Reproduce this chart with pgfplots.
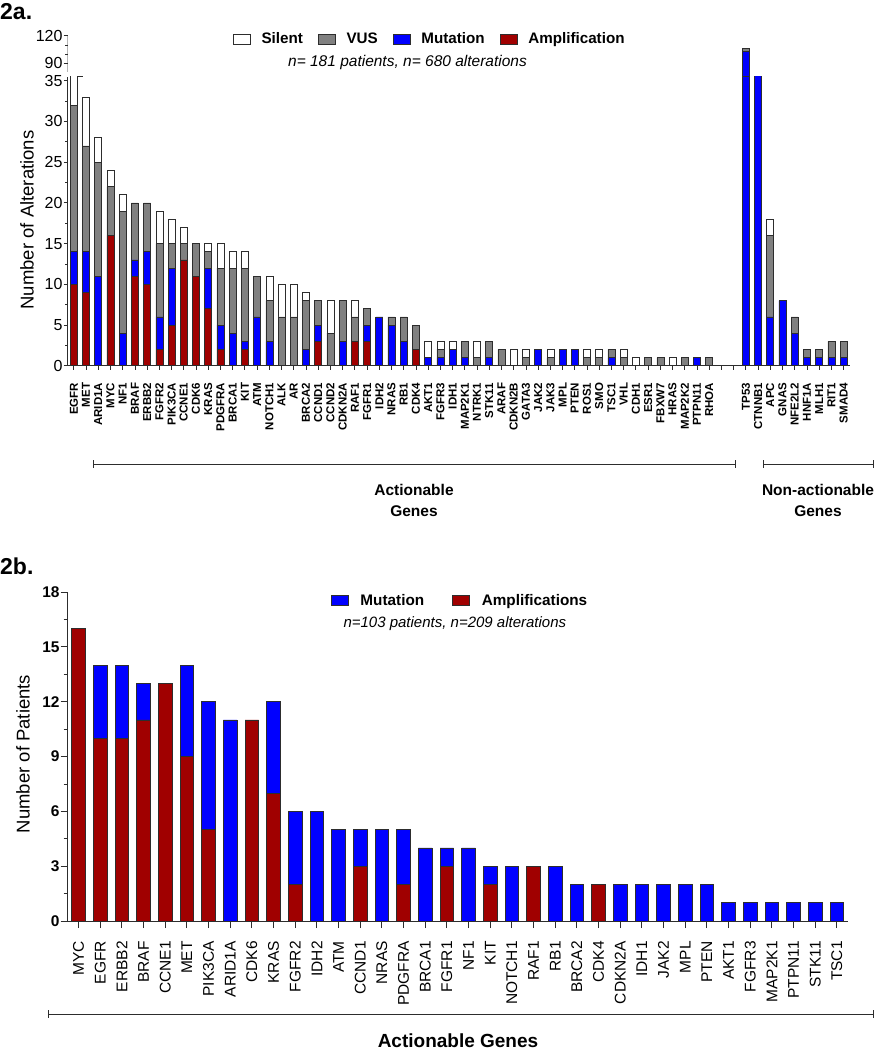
\documentclass[border=0pt]{standalone}
\usepackage{pgfplots}
\usepackage{pgfplotstable}
\usepackage{fontspec}
\setmainfont{Liberation Sans}
\pgfplotsset{compat=1.18}
\definecolor{amp}{RGB}{160,0,0}
\definecolor{mut}{RGB}{0,0,255}
\definecolor{vus}{RGB}{128,128,128}
\definecolor{axc}{RGB}{45,45,45}
\newcommand{\fs}[1]{\fontsize{#1}{#1}\selectfont}
\pgfplotsset{
  mylegend/.style={legend image code/.code={\draw[##1] (0pt,-5pt) rectangle (17pt,5pt);}},
  barsty/.style={draw=axc, line width=0.6pt, mylegend},
}

\pgfplotstableread{
x amp mut vus sil
0 10 4 18 4
1 9 5 13 6
2 0 11 14 3
3 16 0 6 2
4 0 4 15 2
5 11 2 7 0
6 10 4 6 0
7 2 4 9 4
8 5 7 3 3
9 13 0 2 2
10 11 0 4 0
11 7 5 2 1
12 2 3 7 3
13 0 4 8 2
14 2 1 9 2
15 0 6 5 0
16 0 3 5 3
17 0 0 6 4
18 0 0 6 4
19 0 2 6 1
20 3 2 3 0
21 0 0 4 4
22 0 3 5 0
23 3 0 3 2
24 3 2 2 0
25 0 6 0 0
26 0 5 1 0
27 0 3 3 0
28 2 0 3 0
29 0 1 0 2
30 0 1 1 1
31 0 2 0 1
32 0 1 2 0
33 0 0 1 2
34 0 1 2 0
35 0 0 2 0
36 0 0 0 2
37 0 0 1 1
38 0 2 0 0
39 0 0 1 1
40 0 2 0 0
41 0 2 0 0
42 0 0 1 1
43 0 0 1 1
44 0 1 1 0
45 0 0 1 1
46 0 0 0 1
47 0 0 1 0
48 0 0 1 0
49 0 0 0 1
50 0 0 1 0
51 0 1 0 0
52 0 0 1 0
55 0 103 3 0
56 0 63 0 0
57 0 6 10 2
58 0 8 0 0
59 0 4 2 0
60 0 1 1 0
61 0 1 1 0
62 0 1 2 0
63 0 1 2 0
}\topdata

\pgfplotstableread{
x amp mut
0 16 0
1 10 4
2 10 4
3 11 2
4 13 0
5 9 5
6 5 7
7 0 11
8 11 0
9 7 5
10 2 4
11 0 6
12 0 5
13 3 2
14 0 5
15 2 3
16 0 4
17 3 1
18 0 4
19 2 1
20 0 3
21 3 0
22 0 3
23 0 2
24 2 0
25 0 2
26 0 2
27 0 2
28 0 2
29 0 2
30 0 1
31 0 1
32 0 1
33 0 1
34 0 1
35 0 1
}\botdata

\begin{document}
\begin{tikzpicture}[x=1pt,y=1pt]
\path[use as bounding box] (0,0) rectangle (881,-1050);

% panel labels
\node[font=\bfseries\fs{23}, anchor=west, inner sep=0pt] at (0,-12) {2a.};
\node[font=\bfseries\fs{23}, anchor=west, inner sep=0pt] at (0,-566) {2b.};

% ---------- 2a lower axis ----------
\begin{axis}[
  at={(67.7pt,-365.7pt)}, anchor=south west,
  scale only axis, width=782pt, height=289pt,
  xmin=-0.5, xmax=63.5, ymin=0, ymax=35.5,
  ybar stacked, bar width=7pt,
  axis x line*=bottom, axis y line*=left,
  axis line style={-, axc, line width=0.8pt},
  xtick={0,...,63},
  xticklabels={EGFR,MET,ARID1A,MYC,NF1,BRAF,ERBB2,FGFR2,PIK3CA,CCNE1,CDK6,KRAS,PDGFRA,BRCA1,KIT,ATM,NOTCH1,ALK,AR,BRCA2,CCND1,CCND2,CDKN2A,RAF1,FGFR1,IDH2,NRAS,RB1,CDK4,AKT1,FGFR3,IDH1,MAP2K1,NTRK1,STK11,ARAF,CDKN2B,GATA3,JAK2,JAK3,MPL,PTEN,ROS1,SMO,TSC1,VHL,CDH1,ESR1,FBXW7,HRAS,MAP2K2,PTPN11,RHOA,{},{},TP53,CTNNB1,APC,GNAS,NFE2L2,HNF1A,MLH1,RIT1,SMAD4},
  xticklabel style={rotate=90, anchor=east, inner sep=0pt, font=\bfseries\fs{11.5}},
  xticklabel shift=13pt,
  ytick={0,5,...,35}, minor ytick={2.5,7.5,...,32.5},
  yticklabel style={font=\fs{16}, inner sep=1pt},
  tick align=outside, major tick length=4pt, minor tick length=2.5pt,
  tick style={axc, line width=0.8pt},
  /pgf/number format/assume math mode=true,
  legend style={at={(0.463,1.13)}, anchor=center, draw=none, fill=none,
    legend columns=4, font=\bfseries\fs{15.2},
    /tikz/every odd column/.append style={column sep=9pt},
    /tikz/every even column/.append style={column sep=13pt}},
  reverse legend,
]
\addplot[fill=amp, barsty] table[x=x,y=amp]{\topdata};
\addlegendentry{Amplification}
\addplot[fill=mut, barsty] table[x=x,y=mut]{\topdata};
\addlegendentry{Mutation}
\addplot[fill=vus, barsty] table[x=x,y=vus]{\topdata};
\addlegendentry{VUS}
\addplot[fill=white, barsty] table[x=x,y=sil]{\topdata};
\addlegendentry{Silent}
\draw[axc, line width=0.8pt] (axis cs:-0.5,35.5) ++(-3pt,0) -- ++(6pt,0);
\end{axis}

% ---------- 2a upper (broken) axis ----------
\begin{axis}[
  at={(67.7pt,-76.7pt)}, anchor=south west,
  scale only axis, width=782pt, height=41pt,
  xmin=-0.5, xmax=63.5, ymin=75.5, ymax=120,
  ybar stacked, bar width=7pt,
  axis x line=none, axis y line*=left,
  y axis line style={draw=none},
  ytick={90,120}, minor ytick={100,110},
  yticklabel style={font=\fs{16}, inner sep=1pt},
  tick align=outside, major tick length=4pt, minor tick length=2.5pt,
  tick style={axc, line width=0.8pt},
  /pgf/number format/assume math mode=true,
]
\addplot[fill=mut, barsty] coordinates {(55,103)};
\addplot[fill=vus, barsty] coordinates {(55,3)};
\draw[axc, line width=0.8pt] (axis cs:-0.5,81) -- (axis cs:-0.5,120);
\draw[axc, line width=0.8pt] (axis cs:-0.5,81) ++(-3pt,0) -- ++(6pt,0);
\end{axis}

\node[font=\itshape\fs{15.5}] at (407.5,-62.7) {n= 181 patients, n= 680 alterations};
\node[font=\fs{18.5}, rotate=90] at (27,-220) {Number of Alterations};

% brackets 2a
\draw[axc, line width=0.8pt] (93,-464) -- (735,-464);
\draw[axc, line width=0.8pt] (93,-460) -- (93,-468);
\draw[axc, line width=0.8pt] (735,-460) -- (735,-468);
\draw[axc, line width=0.8pt] (763,-464) -- (873,-464);
\draw[axc, line width=0.8pt] (763,-460) -- (763,-468);
\draw[axc, line width=0.8pt] (873,-460) -- (873,-468);
\node[font=\bfseries\fontsize{15.5}{21}\selectfont, align=center] at (414,-500) {Actionable\\Genes};
\node[font=\bfseries\fontsize{15.5}{21}\selectfont, align=center] at (818,-500) {Non-actionable\\Genes};

% ---------- 2b ----------
\begin{axis}[
  at={(67.7pt,-921pt)}, anchor=south west,
  scale only axis, width=780pt, height=329pt,
  xmin=-0.5, xmax=35.5, ymin=0, ymax=18,
  ybar stacked, bar width=13.7pt,
  axis x line*=bottom, axis y line*=left,
  axis line style={-, axc, line width=0.8pt},
  xtick={0,...,35},
  xticklabels={MYC,EGFR,ERBB2,BRAF,CCNE1,MET,PIK3CA,ARID1A,CDK6,KRAS,FGFR2,IDH2,ATM,CCND1,NRAS,PDGFRA,BRCA1,FGFR1,NF1,KIT,NOTCH1,RAF1,RB1,BRCA2,CDK4,CDKN2A,IDH1,JAK2,MPL,PTEN,AKT1,FGFR3,MAP2K1,PTPN11,STK11,TSC1},
  xticklabel style={rotate=90, anchor=east, inner sep=0pt, font=\fs{15.5}},
  xticklabel shift=13pt,
  ytick={0,3,...,18}, minor ytick={1.5,4.5,...,16.5},
  yticklabel style={font=\bfseries\fs{15.5}, inner sep=1pt},
  tick align=outside, major tick length=7pt, minor tick length=4pt,
  tick style={axc, line width=0.8pt},
  /pgf/number format/assume math mode=true,
  legend style={at={(0.503,0.974)}, anchor=center, draw=none, fill=none,
    legend columns=2, font=\bfseries\fs{15.3},
    /tikz/every odd column/.append style={column sep=10pt},
    /tikz/every even column/.append style={column sep=26pt}},
  reverse legend,
]
\addplot[fill=amp, barsty] table[x=x,y=amp]{\botdata};
\addlegendentry{Amplifications}
\addplot[fill=mut, barsty] table[x=x,y=mut]{\botdata};
\addlegendentry{Mutation}
\end{axis}

\node[font=\itshape\fs{15}, anchor=west] at (340,-623.3) {n=103 patients, n=209 alterations};
\node[font=\fs{18.5}, rotate=90] at (23,-754) {Number of Patients};

\draw[axc, line width=0.8pt] (48,-1014) -- (873,-1014);
\draw[axc, line width=0.8pt] (48,-1010) -- (48,-1018);
\draw[axc, line width=0.8pt] (873,-1010) -- (873,-1018);
\node[font=\bfseries\fs{19}] at (458,-1041) {Actionable Genes};
\end{tikzpicture}
\end{document}
